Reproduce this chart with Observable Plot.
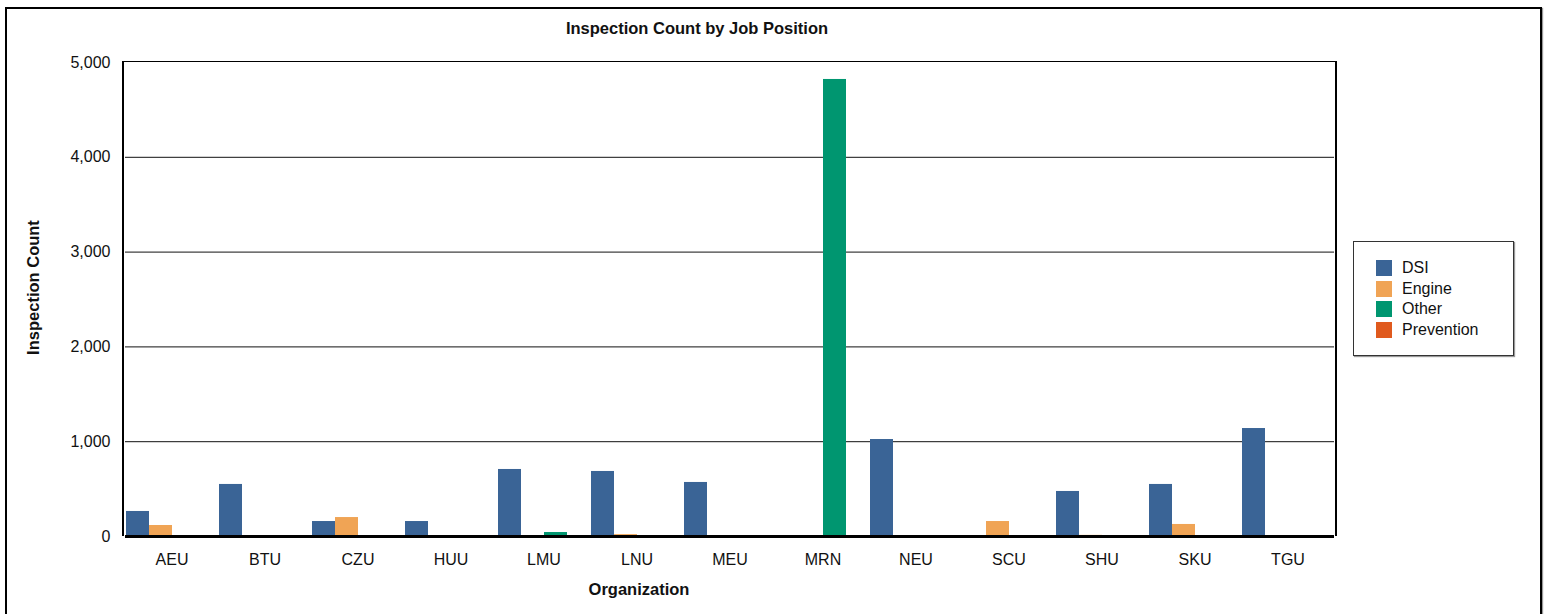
<!DOCTYPE html>
<html><head><meta charset="utf-8">
<script src="https://cdn.jsdelivr.net/npm/d3@7"></script>
<script src="https://cdn.jsdelivr.net/npm/@observablehq/plot@0.6"></script>
<style>
body{margin:0;background:#fff;font-family:"Liberation Sans",Arial,sans-serif;}
#wrap{position:relative;width:1548px;height:614px;overflow:hidden;background:#fff;}
#wrap svg{position:absolute;left:0;top:0;}
.abs{position:absolute;pointer-events:none;}
#outer{left:5px;top:7px;width:1533px;height:640px;border:2px solid #000;box-shadow:1px 1px 1px #999;}
#frame{left:122px;top:61px;width:1211px;height:474px;border-left:2px solid #000;border-top:1px solid #000;border-right:2px solid #000;}
#title{left:497px;width:400px;top:19px;text-align:center;font-weight:bold;font-size:16.5px;color:#111;}
#xtitle{left:489px;width:300px;top:580px;text-align:center;font-weight:bold;font-size:16.5px;color:#111;}
#ytitle{left:-67px;width:200px;top:278px;text-align:center;font-weight:bold;font-size:16.5px;color:#111;transform:rotate(-90deg);}
#legend{left:1353px;top:241px;width:159px;height:113px;border:1px solid #333;box-shadow:1px 1px 1px #999;background:#fff;}
.item{position:absolute;left:22px;height:16px;font-size:16px;color:#111;line-height:16px;}
.sw{position:absolute;left:0;top:0;width:16px;height:16px;}
.lbl{position:absolute;left:26px;top:0;white-space:nowrap;}
</style></head>
<body><div id="wrap"></div>
<script>
const organizations = ["AEU","BTU","CZU","HUU","LMU","LNU","MEU","MRN","NEU","SCU","SHU","SKU","TGU"];
const series = ["DSI","Engine","Other","Prevention"];
const colors = ["#3a6496","#f0a455","#009670","#e05a1e"];
const dsi        = [264, 549, 158, 158, 707, 686, 570,    0, 1023,   4, 475, 549, 1139];
const engine     = [116,   0, 200,   0,   0,  20,   0,    0,    0, 158,  12, 127,    0];
const other      = [  0,   0,   0,   0,  42,   8,   0, 4821,    0,   4,   0,   0,    0];
const prevention = [  0,   0,   0,   0,   0,   0,   0,    0,    0,   0,   8,   0,    0];
const yTicks = [0, 1000, 2000, 3000, 4000, 5000];
const gridTicks = [1000, 2000, 3000, 4000];

const bySeries = [dsi, engine, other, prevention];
const rows = organizations.flatMap((org, i) => series.map((s, j) => ({org, series: s, value: bySeries[j][i]})));

const chart = Plot.plot({
  width: 1548,
  height: 614,
  marginLeft: 123,
  marginRight: 213,
  marginTop: 62,
  marginBottom: 78,
  style: {background: "transparent", fontFamily: "'Liberation Sans', Arial, sans-serif", color: "#111"},
  fx: {domain: organizations, padding: 0},
  x: {domain: series, padding: 0, axis: null},
  y: {domain: [0, 5000], axis: null},
  color: {domain: series, range: colors},
  marks: [
    Plot.gridY(gridTicks, {stroke: "#111", strokeOpacity: 1, strokeWidth: 1}),
    Plot.barY(rows, {fx: "org", x: "series", y: "value", fill: "series"}),
    Plot.ruleY([0], {stroke: "#000", strokeWidth: 3}),
    Plot.axisY(yTicks, {tickSize: 0, tickPadding: 15, fontSize: 16, tickFormat: d3.format(","), label: null}),
    Plot.axisFx({anchor: "bottom", tickSize: 0, tickPadding: 17, fontSize: 16, label: null})
  ]
});
const wrap = document.getElementById("wrap");
wrap.appendChild(chart);

function add(id, html) {
  const d = document.createElement("div");
  d.className = "abs"; d.id = id; d.innerHTML = html || "";
  wrap.appendChild(d);
  return d;
}
add("outer");
add("frame");
add("title", "Inspection Count by Job Position");
add("xtitle", "Organization");
add("ytitle", "Inspection Count");
const lg = add("legend");
series.forEach((s, i) => {
  const it = document.createElement("div");
  it.className = "item";
  it.style.top = (18 + i * 20.7) + "px";
  it.innerHTML = `<div class="sw" style="background:${colors[i]}"></div><div class="lbl">${s}</div>`;
  lg.appendChild(it);
});
</script>
</body></html>
